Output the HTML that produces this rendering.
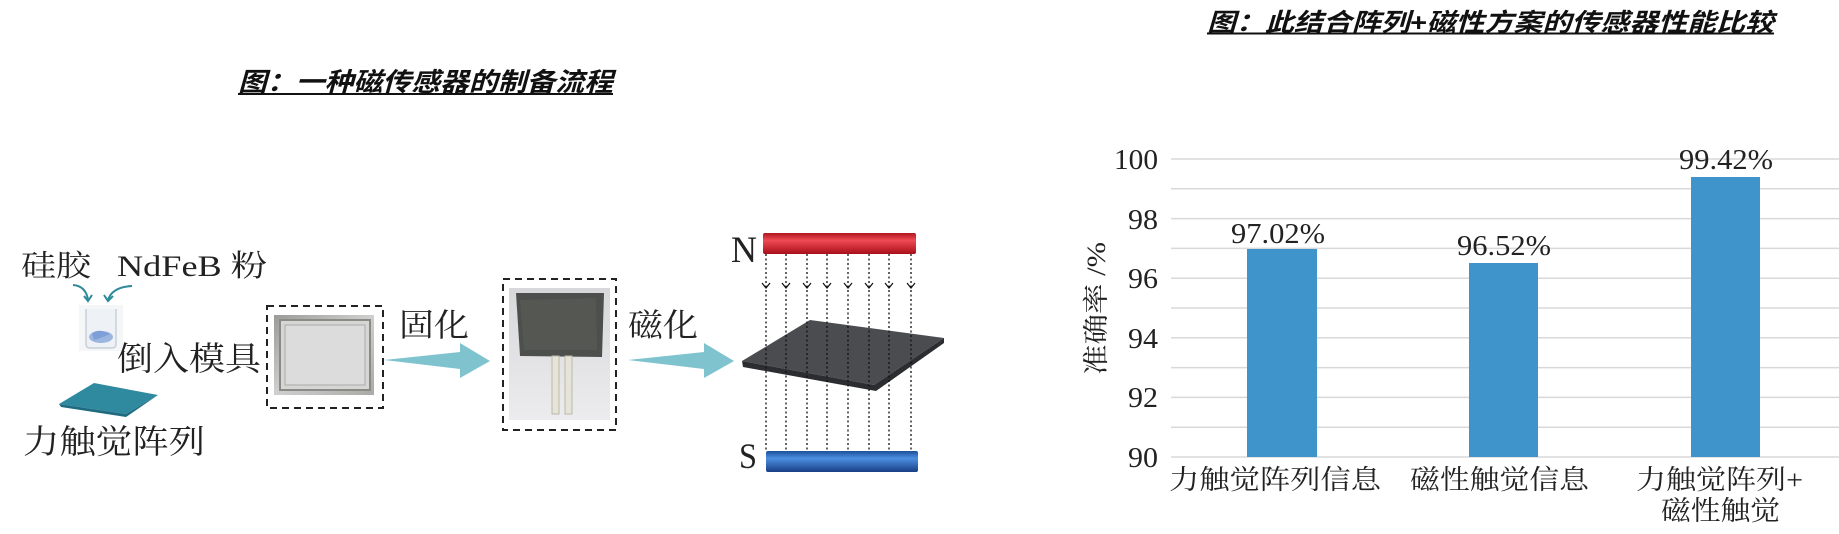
<!DOCTYPE html>
<html><head><meta charset="utf-8"><style>
html,body{margin:0;padding:0;background:#fff}
svg{display:block}
.cj{font-family:"Liberation Serif","Noto Serif CJK SC",serif;fill:#222}
.sr{font-family:"Liberation Serif","Noto Serif CJK SC",serif;fill:#222}
.tt{font-family:"Liberation Sans","Noto Sans CJK SC",sans-serif;font-weight:bold;font-style:italic;fill:#111}
</style></head><body>
<svg width="1839" height="534" viewBox="0 0 1839 534" xmlns="http://www.w3.org/2000/svg">
<defs>
<linearGradient id="red" x1="0" y1="0" x2="0" y2="1"><stop offset="0" stop-color="#b0151d"/><stop offset="0.35" stop-color="#ef4a55"/><stop offset="1" stop-color="#a80f18"/></linearGradient>
<linearGradient id="blue" x1="0" y1="0" x2="0" y2="1"><stop offset="0" stop-color="#1a4f9a"/><stop offset="0.35" stop-color="#4d8fe0"/><stop offset="1" stop-color="#173f85"/></linearGradient>
<linearGradient id="ph1" x1="0" y1="0" x2="1" y2="1"><stop offset="0" stop-color="#9a9a98"/><stop offset="0.5" stop-color="#cfcfcf"/><stop offset="1" stop-color="#a9a9a6"/></linearGradient>
<linearGradient id="ph2" x1="0" y1="0" x2="0" y2="1"><stop offset="0" stop-color="#d8d8dc"/><stop offset="1" stop-color="#ececee"/></linearGradient>
</defs>

<!-- Titles -->
<text class="tt" x="238" y="91" font-size="26" textLength="375" lengthAdjust="spacingAndGlyphs">图：一种磁传感器的制备流程</text>
<line x1="238" y1="94" x2="613" y2="94" stroke="#111" stroke-width="2"/>
<text class="tt" x="1207" y="31" font-size="25" textLength="567" lengthAdjust="spacingAndGlyphs">图：此结合阵列+磁性方案的传感器性能比较</text>
<line x1="1207" y1="33.5" x2="1774" y2="33.5" stroke="#111" stroke-width="2"/>

<!-- Left process -->
<text class="cj" x="21" y="276" font-size="30" textLength="70" lengthAdjust="spacingAndGlyphs">硅胶</text>
<text class="cj" x="117" y="276" font-size="30" textLength="150" lengthAdjust="spacingAndGlyphs">NdFeB 粉</text>
<path d="M73,285 Q86,286 88,300" fill="none" stroke="#2e8a99" stroke-width="2"/>
<path d="M84,296 L88,301 L92,295" fill="none" stroke="#2e8a99" stroke-width="2"/>
<path d="M132,286 Q112,287 108,300" fill="none" stroke="#2e8a99" stroke-width="2"/>
<path d="M104,295 L108,301 L113,296" fill="none" stroke="#2e8a99" stroke-width="2"/>
<!-- beaker -->
<rect x="79" y="305" width="44" height="46" fill="#f4f6f8"/>
<path d="M86,309 L86,344 Q86,348 90,348 L112,348 Q116,348 116,344 L116,309" fill="#eef2f6" stroke="#c8d0d8" stroke-width="1.5"/>
<ellipse cx="101" cy="337" rx="12" ry="6" fill="#9cb6e0"/>
<path d="M92,333 Q100,328 110,334 Q102,338 94,340 Z" fill="#7f9fd8"/>
<text class="cj" x="117" y="370" font-size="33" textLength="144" lengthAdjust="spacingAndGlyphs">倒入模具</text>
<!-- blue sheet -->
<polygon points="59,404 94,383 158,395 126,414" fill="#2f8aa0"/>
<polygon points="59,404 126,414 158,395 126,417 61,407" fill="#1f6b7f"/>
<text class="cj" x="23" y="453" font-size="33" textLength="182" lengthAdjust="spacingAndGlyphs">力触觉阵列</text>

<!-- Box1 -->
<rect x="267" y="306" width="116" height="102" fill="none" stroke="#222" stroke-width="2" stroke-dasharray="7,5"/>
<rect x="274" y="315" width="100" height="80" fill="url(#ph1)"/>
<rect x="280" y="320" width="90" height="70" fill="#d6d6d4" stroke="#8a8a86" stroke-width="2"/>
<rect x="285" y="325" width="80" height="60" fill="#dcdcdc" stroke="#aaa" stroke-width="1"/>
<text class="cj" x="399" y="336" font-size="32" textLength="70" lengthAdjust="spacingAndGlyphs">固化</text>
<polygon points="384,360 460,352 460,343 490,361 460,378 460,369" fill="#7fc3cf"/>

<!-- Box2 -->
<rect x="503" y="279" width="113" height="151" fill="none" stroke="#222" stroke-width="2" stroke-dasharray="7,5"/>
<rect x="509" y="288" width="101" height="132" fill="url(#ph2)"/>
<polygon points="516,293 604,293 602,357 520,356" fill="#4d4f4c"/>
<polygon points="520,300 596,298 597,350 524,350" fill="#5b5d59" opacity="0.6"/>
<rect x="552" y="356" width="7" height="58" fill="#e6e4d8" stroke="#bcb9a8" stroke-width="1"/>
<rect x="565" y="356" width="7" height="58" fill="#e6e4d8" stroke="#bcb9a8" stroke-width="1"/>
<text class="cj" x="628" y="336" font-size="32" textLength="70" lengthAdjust="spacingAndGlyphs">磁化</text>
<polygon points="628,360 704,352 704,343 734,361 704,378 704,369" fill="#7fc3cf"/>

<!-- Magnet -->
<text class="sr" x="731" y="262" font-size="37" textLength="26" lengthAdjust="spacingAndGlyphs">N</text>
<rect x="763" y="233" width="153" height="21" fill="url(#red)" rx="2"/>
<text class="sr" x="739" y="468" font-size="36" textLength="18" lengthAdjust="spacingAndGlyphs">S</text>
<rect x="766" y="451" width="152" height="21" fill="url(#blue)" rx="2"/>
<!-- plate -->
<polygon points="742,361 810,320 944,338 874,385" fill="#4a4c50"/>
<polygon points="742,361 874,385 944,338 944,343 876,391 743,367" fill="#2c2d30"/>
<g stroke="#111" stroke-width="1.3" stroke-dasharray="2,2.5" fill="none">
<line x1="766" y1="254" x2="766" y2="451"/>
<line x1="786" y1="254" x2="786" y2="451"/>
<line x1="807" y1="254" x2="807" y2="451"/>
<line x1="827" y1="254" x2="827" y2="451"/>
<line x1="848" y1="254" x2="848" y2="451"/>
<line x1="869" y1="254" x2="869" y2="451"/>
<line x1="889" y1="254" x2="889" y2="451"/>
<line x1="911" y1="254" x2="911" y2="451"/>
</g>
<g stroke="#111" stroke-width="1.2" fill="none">
<path d="M762,283 L766,288 L770,283"/><path d="M782,283 L786,288 L790,283"/>
<path d="M803,283 L807,288 L811,283"/><path d="M823,283 L827,288 L831,283"/>
<path d="M844,283 L848,288 L852,283"/><path d="M865,283 L869,288 L873,283"/>
<path d="M885,283 L889,288 L893,283"/><path d="M907,283 L911,288 L915,283"/>
</g>

<!-- Chart gridlines -->
<g stroke="#d9d9d9" stroke-width="1.5">
<line x1="1171" y1="159" x2="1839" y2="159"/>
<line x1="1171" y1="188.8" x2="1839" y2="188.8"/>
<line x1="1171" y1="218.6" x2="1839" y2="218.6"/>
<line x1="1171" y1="248.4" x2="1839" y2="248.4"/>
<line x1="1171" y1="278.2" x2="1839" y2="278.2"/>
<line x1="1171" y1="308" x2="1839" y2="308"/>
<line x1="1171" y1="337.8" x2="1839" y2="337.8"/>
<line x1="1171" y1="367.6" x2="1839" y2="367.6"/>
<line x1="1171" y1="397.4" x2="1839" y2="397.4"/>
<line x1="1171" y1="427.2" x2="1839" y2="427.2"/>
<line x1="1171" y1="457" x2="1839" y2="457"/>
</g>
<!-- bars -->
<rect x="1247" y="249" width="70" height="208" fill="#3f94cb"/>
<rect x="1469" y="263" width="69" height="194" fill="#3f94cb"/>
<rect x="1691" y="177" width="69" height="280" fill="#3f94cb"/>
<!-- value labels -->
<text class="sr" x="1231" y="243" font-size="28" textLength="94" lengthAdjust="spacingAndGlyphs">97.02%</text>
<text class="sr" x="1457" y="255" font-size="28" textLength="94" lengthAdjust="spacingAndGlyphs">96.52%</text>
<text class="sr" x="1679" y="169" font-size="28" textLength="94" lengthAdjust="spacingAndGlyphs">99.42%</text>
<!-- y labels -->
<text class="sr" x="1114" y="169" font-size="28" textLength="44" lengthAdjust="spacingAndGlyphs">100</text>
<text class="sr" x="1128" y="229" font-size="28" textLength="30" lengthAdjust="spacingAndGlyphs">98</text>
<text class="sr" x="1128" y="288" font-size="28" textLength="30" lengthAdjust="spacingAndGlyphs">96</text>
<text class="sr" x="1128" y="348" font-size="28" textLength="30" lengthAdjust="spacingAndGlyphs">94</text>
<text class="sr" x="1128" y="407" font-size="28" textLength="30" lengthAdjust="spacingAndGlyphs">92</text>
<text class="sr" x="1128" y="467" font-size="28" textLength="30" lengthAdjust="spacingAndGlyphs">90</text>
<!-- y title -->
<text class="cj" transform="translate(1105,375) rotate(-90)" x="0" y="0" font-size="26" textLength="133" lengthAdjust="spacingAndGlyphs">准确率 /%</text>
<!-- category labels -->
<text class="cj" x="1169" y="489" font-size="27" textLength="212" lengthAdjust="spacingAndGlyphs">力触觉阵列信息</text>
<text class="cj" x="1410" y="489" font-size="27" textLength="179" lengthAdjust="spacingAndGlyphs">磁性触觉信息</text>
<text class="cj" x="1636" y="489" font-size="27" textLength="167" lengthAdjust="spacingAndGlyphs">力触觉阵列+</text>
<text class="cj" x="1661" y="520" font-size="27" textLength="119" lengthAdjust="spacingAndGlyphs">磁性触觉</text>
</svg>
</body></html>
